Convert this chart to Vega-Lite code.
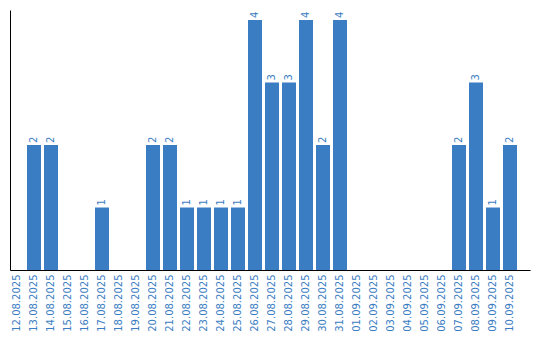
{
  "$schema": "https://vega.github.io/schema/vega-lite/v6.json",
  "width": 520,
  "height": 260,
  "autosize": {"type": "none"},
  "padding": {"left": 10, "top": 10, "right": 10, "bottom": 70},
  "background": "white",
  "config": {"view": {"stroke": null}, "font": "DejaVu Sans"},
  "data": {"values": [
    {"d": "12.08.2025", "v": 0},
    {"d": "13.08.2025", "v": 2},
    {"d": "14.08.2025", "v": 2},
    {"d": "15.08.2025", "v": 0},
    {"d": "16.08.2025", "v": 0},
    {"d": "17.08.2025", "v": 1},
    {"d": "18.08.2025", "v": 0},
    {"d": "19.08.2025", "v": 0},
    {"d": "20.08.2025", "v": 2},
    {"d": "21.08.2025", "v": 2},
    {"d": "22.08.2025", "v": 1},
    {"d": "23.08.2025", "v": 1},
    {"d": "24.08.2025", "v": 1},
    {"d": "25.08.2025", "v": 1},
    {"d": "26.08.2025", "v": 4},
    {"d": "27.08.2025", "v": 3},
    {"d": "28.08.2025", "v": 3},
    {"d": "29.08.2025", "v": 4},
    {"d": "30.08.2025", "v": 2},
    {"d": "31.08.2025", "v": 4},
    {"d": "01.09.2025", "v": 0},
    {"d": "02.09.2025", "v": 0},
    {"d": "03.09.2025", "v": 0},
    {"d": "04.09.2025", "v": 0},
    {"d": "05.09.2025", "v": 0},
    {"d": "06.09.2025", "v": 0},
    {"d": "07.09.2025", "v": 2},
    {"d": "08.09.2025", "v": 3},
    {"d": "09.09.2025", "v": 1},
    {"d": "10.09.2025", "v": 2}
  ]},
  "encoding": {
    "x": {
      "field": "d", "type": "ordinal", "sort": null,
      "scale": {"paddingInner": 0.176, "paddingOuter": 0.382, "align": 0},
      "axis": {
        "title": null, "ticks": false, "labelAngle": -90, "labelPadding": 4,
        "labelColor": "#3b7dc2", "labelFontSize": 10, "labelFont": "DejaVu Sans",
        "domainColor": "black", "domainWidth": 1, "grid": false
      }
    },
    "y": {
      "field": "v", "type": "quantitative",
      "scale": {"domain": [0, 4.16], "nice": false},
      "axis": {"title": null, "labels": false, "ticks": false, "grid": false, "domainColor": "black", "domainWidth": 1}
    }
  },
  "layer": [
    {"mark": {"type": "bar", "color": "#3b7dc2"}},
    {
      "transform": [{"filter": "datum.v > 0"}],
      "mark": {"type": "text", "angle": -90, "align": "left", "baseline": "middle", "dx": 2, "color": "#3b7dc2", "fontSize": 10, "font": "DejaVu Sans"},
      "encoding": {"text": {"field": "v", "type": "quantitative"}}
    }
  ]
}
